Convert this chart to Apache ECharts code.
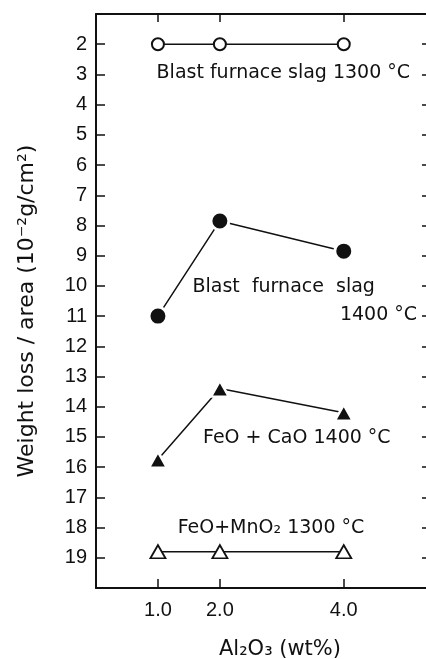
<!DOCTYPE html>
<html>
<head>
<meta charset="utf-8">
<script src="https://cdn.jsdelivr.net/npm/echarts@6/dist/echarts.min.js"></script>
<style>
  html, body { margin: 0; padding: 0; background: #fff; }
  #chart { width: 426px; height: 659px; }
</style>
</head>
<body>
<div id="chart"></div>
<script>
// Al2O3 content (wt%)
const alumina = [1.0, 2.0, 4.0]
// weight loss / area (10^-2 g/cm^2)
const bfSlag1300 = [2.0, 2.0, 2.0]
const bfSlag1400 = [11.0, 7.85, 8.85]
const feoCao1400 = [15.75, 13.4, 14.2]
const feoMno2_1300 = [18.8, 18.8, 18.8]
// tick labels
const xTickLabels = [1.0, 2.0, 4.0]
const yTickLabels = [2, 3, 4, 5, 6, 7, 8, 9, 10, 11, 12, 13, 14, 15, 16, 17, 18, 19]

const pairs = ys => alumina.map((x, i) => [x, ys[i]])

const chart = echarts.init(document.getElementById('chart'))
const ink = '#111'
const font = 'DejaVu Sans'

// text put next to the curves, anchored in data units
function note(coord, text) {
  return {
    coord: coord,
    symbol: 'circle',
    symbolSize: 1,
    itemStyle: { color: 'rgba(0,0,0,0)' },
    label: {
      show: true,
      position: 'right',
      distance: 0,
      formatter: text,
      color: ink,
      fontFamily: font,
      fontSize: 19
    }
  }
}

const lineStyle = { color: ink, width: 1.5 }
const tickStyle = { color: ink, width: 1.5 }

chart.setOption({
  animation: false,
  grid: { left: 96, top: 14, right: -2, bottom: 71, outerBoundsMode: 'none' },
  xAxis: [{
    type: 'value',
    min: 0,
    max: 5.36,
    position: 'bottom',
    splitLine: { show: false },
    axisLine: { onZero: false, lineStyle: { color: ink, width: 2 } },
    axisTick: { inside: true, length: 9, lineStyle: tickStyle, customValues: xTickLabels },
    axisLabel: {
      customValues: xTickLabels,
      formatter: v => v.toFixed(1),
      color: ink, fontFamily: 'Liberation Sans', fontSize: 20, margin: 12
    },
    name: 'Al₂O₃ (wt%)',
    nameLocation: 'middle',
    nameGap: 51,
    nameTextStyle: { color: ink, fontFamily: font, fontSize: 21, padding: [0, 0, 0, 36] }
  }, {
    type: 'value',
    min: 0,
    max: 5.36,
    position: 'top',
    splitLine: { show: false },
    axisLine: { onZero: false, lineStyle: { color: ink, width: 2 } },
    axisTick: { inside: true, length: 8, lineStyle: tickStyle, customValues: xTickLabels },
    axisLabel: { show: false }
  }],
  yAxis: [{
    type: 'value',
    inverse: true,
    min: 1,
    max: 20,
    interval: 1,
    position: 'left',
    splitLine: { show: false },
    axisLine: { onZero: false, lineStyle: { color: ink, width: 2 } },
    axisTick: { inside: true, length: 9, lineStyle: tickStyle },
    axisLabel: {
      customValues: yTickLabels,
      color: ink, fontFamily: 'Liberation Sans', fontSize: 20, margin: 9
    },
    name: 'Weight loss / area (10⁻²g/cm²)',
    nameLocation: 'middle',
    nameGap: 58,
    nameTextStyle: { color: ink, fontFamily: font, fontSize: 22, padding: [0, 20, 0, 0] }
  }, {
    type: 'value',
    inverse: true,
    min: 1,
    max: 20,
    interval: 1,
    position: 'right',
    splitLine: { show: false },
    axisLine: { onZero: false, lineStyle: { color: ink, width: 2 } },
    axisTick: { inside: true, length: 6, lineStyle: tickStyle },
    axisLabel: { show: false }
  }],
  series: [{
    name: 'Blast furnace slag 1300 °C',
    type: 'line',
    data: pairs(bfSlag1300),
    symbol: 'circle',
    symbolSize: 12,
    lineStyle: lineStyle,
    itemStyle: { color: '#fff', borderColor: ink, borderWidth: 2 },
    markPoint: { data: [note([0.97, 2.95], 'Blast furnace slag 1300 °C')] }
  }, {
    name: 'Blast furnace slag 1400 °C',
    type: 'line',
    data: pairs(bfSlag1400),
    symbol: 'circle',
    symbolSize: 18,
    lineStyle: lineStyle,
    itemStyle: { color: ink, borderColor: '#fff', borderWidth: 3 },
    markPoint: { data: [
      note([1.55, 10.05], 'Blast  furnace  slag'),
      note([3.93, 10.98], '1400 °C')
    ] }
  }, {
    name: 'FeO + CaO 1400 °C',
    type: 'line',
    data: pairs(feoCao1400),
    symbol: 'triangle',
    symbolSize: [18, 16],
    lineStyle: lineStyle,
    itemStyle: { color: ink, borderColor: '#fff', borderWidth: 2.5 },
    markPoint: { data: [note([1.72, 15.05], 'FeO + CaO 1400 °C')] }
  }, {
    name: 'FeO+MnO2 1300 °C',
    type: 'line',
    data: pairs(feoMno2_1300),
    symbol: 'triangle',
    symbolSize: [15, 13],
    lineStyle: lineStyle,
    itemStyle: { color: '#fff', borderColor: ink, borderWidth: 1.8 },
    markPoint: { data: [note([1.31, 18.0], 'FeO+MnO₂ 1300 °C')] }
  }]
})
</script>
</body>
</html>
